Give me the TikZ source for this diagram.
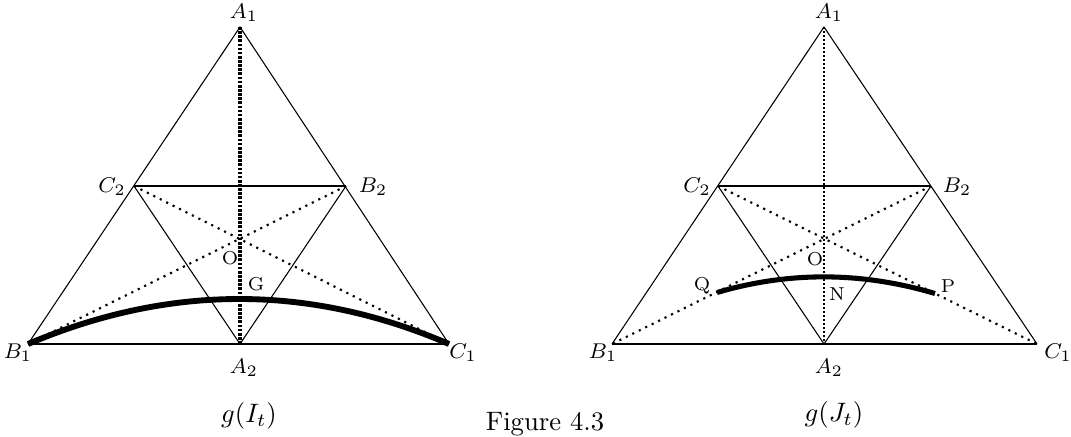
\documentclass[tikz,border=0pt]{standalone}
\begin{document}
\begin{tikzpicture}[x=0.375pt,y=-0.375pt,
  edge/.style={line width=0.4pt},
  base/.style={line width=0.8pt},
  dots/.style={line width=0.8pt,dash pattern=on 0.8pt off 1.9pt},
  vdots/.style={line width=1.3pt,dash pattern=on 1pt off 0.55pt},
  vdotsr/.style={line width=0.7pt,dash pattern=on 0.6pt off 0.9pt},
  curve/.style={line width=2.2pt},
  vlab/.style={font=\footnotesize,inner sep=0pt},
  plab/.style={font=\scriptsize,inner sep=0pt},
  captext/.style={inner sep=0pt,anchor=base}]
\useasboundingbox (0,0) rectangle (1071,436);
% ---------- left triangle ----------
\coordinate (A1) at (240,27);
\coordinate (B1) at (28,344);
\coordinate (C1) at (449,344);
\coordinate (A2) at (240,344);
\coordinate (C2) at (134,186);
\coordinate (B2) at (346,186);
\coordinate (K1) at (169.3,284);
\coordinate (K2) at (309.7,284);
\draw[edge] (B1) -- (A1) -- (C1);
\draw[base] (B1) -- (C1);
\draw[base] (C2) -- (B2);
\draw[edge] (C2) -- (A2) -- (B2);
\draw[vdots] (A1) -- (A2);
\draw[dots] (C2) -- (C1);
\draw[dots] (B2) -- (B1);
\draw[curve] (B1) .. controls (K1) and (K2) .. (C1);
\node[vlab] (lA1) at (244,13) {$A_1$};
\node[vlab] (lB1) at (18,353) {$B_1$};
\node[vlab] (lC1) at (463,353) {$C_1$};
\node[vlab] (lA2) at (244,368) {$A_2$};
\node[vlab] (lC2) at (112,187) {$C_2$};
\node[vlab] (lB2) at (373,187) {$B_2$};
\node[plab] (lO) at (230,258) {O};
\node[plab] (lG) at (256,284) {G};
\node[captext] (capL) at (249,422) {$g(I_t)$};
% ---------- right triangle ----------
\coordinate (RA1) at (824,27);
\coordinate (RB1) at (612,344);
\coordinate (RC1) at (1037,344);
\coordinate (RA2) at (824,344);
\coordinate (RC2) at (718,186);
\coordinate (RB2) at (931,186);
\coordinate (Q) at (717,292.5);
\coordinate (P) at (935,293.5);
\coordinate (RK1) at (788.3,271.5);
\coordinate (RK2) at (861,271.5);
\draw[edge] (RB1) -- (RA1) -- (RC1);
\draw[base] (RB1) -- (RC1);
\draw[base] (RC2) -- (RB2);
\draw[edge] (RC2) -- (RA2) -- (RB2);
\draw[vdotsr] (RA1) -- (RA2);
\draw[dots] (RC2) -- (RC1);
\draw[dots] (RB2) -- (RB1);
\draw[curve,line width=1.9pt] (Q) .. controls (RK1) and (RK2) .. (P);
\node[vlab] (rA1) at (829,13) {$A_1$};
\node[vlab] (rB1) at (603,353) {$B_1$};
\node[vlab] (rC1) at (1058,353) {$C_1$};
\node[vlab] (rA2) at (829,368) {$A_2$};
\node[vlab] (rC2) at (697,187) {$C_2$};
\node[vlab] (rB2) at (957,187) {$B_2$};
\node[plab] (rO) at (815,259) {O};
\node[plab] (rQ) at (702,286) {Q};
\node[plab] (rP) at (948,286) {P};
\node[plab] (rN) at (837,294) {N};
\node[captext] (capR) at (834,421) {$g(J_t)$};
% ---------- figure caption ----------
\node[captext] (fig) at (545,430) {Figure 4.3};
\end{tikzpicture}
\end{document}
